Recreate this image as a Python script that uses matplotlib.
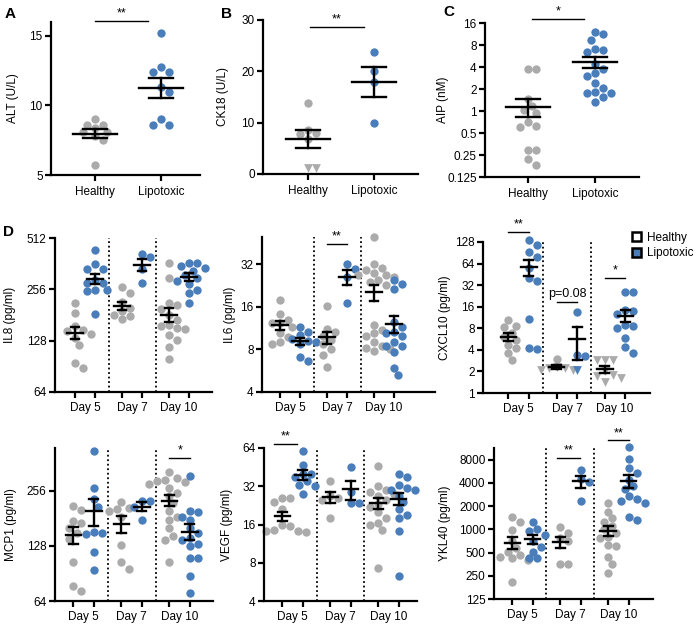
import matplotlib
matplotlib.use('Agg')
import matplotlib.pyplot as plt
from matplotlib.patches import Patch
from matplotlib.ticker import NullLocator
import numpy as np

plt.rcParams['font.family'] = ['Liberation Sans', 'DejaVu Sans']

GRAY = '#ABABAB'
BLUE = '#4A7EBB'

# ---- panel A-C data ----
groups = ['Healthy', 'Lipotoxic']
alt_healthy = [9.0, 8.6, 8.6, 8.4, 8.1, 8.1, 7.8, 7.5, 5.7]
alt_lipo = [15.2, 12.8, 12.4, 12.4, 11.3, 11.0, 9.0, 8.6, 8.6]

ck18_healthy = [13.9, 8.6, 8.0, 7.8, 6.9]
ck18_healthy_lod = [1.2, 1.2]          # below detection, drawn as triangles
ck18_lipo = [23.8, 20.1, 17.9, 9.9]

aip_healthy = [3.7, 3.7, 1.45, 1.17, 1.03, 0.95, 0.71, 0.63, 0.61, 0.29, 0.29, 0.22, 0.18]
aip_lipo = [11.9, 11.3, 9.5, 7.0, 6.9, 6.5, 4.4, 3.7, 3.3, 3.0, 2.45, 2.05, 1.8, 1.75, 1.75, 1.57, 1.32]

# ---- panel D data: [day 5, day 7, day 10] ----
days = ['Day 5', 'Day 7', 'Day 10']

il8_healthy = [[212, 186, 155, 148, 145, 140, 132, 120, 95, 89],
               [263, 244, 216, 200, 190, 181, 178, 171],
               [365, 298, 212, 208, 195, 181, 170, 159, 155, 152, 149, 139, 130, 118, 100]]
il8_lipo = [[433, 360, 335, 335, 292, 280, 280, 254, 254, 250, 184],
            [415, 396, 336, 280],
            [365, 365, 350, 340, 330, 310, 300, 288, 274, 254, 244, 212]]

il6_healthy = [[18.0, 14.3, 13.0, 12.3, 12.3, 11.5, 10.4, 9.8, 9.0, 8.8],
               [16.2, 11.2, 10.6, 10.0, 9.4, 8.7, 8.1, 7.3, 6.0],
               [49.8, 32, 30, 29, 28, 27, 27, 26, 25, 24, 23, 12, 11, 10.5, 10, 9, 8.5, 8.2, 8, 7.8]]
il6_lipo = [[11.5, 10.6, 10.1, 9.5, 9.2, 9.0, 8.8, 7.1, 6.6],
            [32, 29.5, 26, 17],
            [25, 23.4, 21.5, 12.6, 11.5, 10.6, 10.4, 10, 9.1, 8.5, 8.4, 7.7, 5.9, 5.3]]

cxcl10_healthy = [[10.5, 8.6, 8.3, 6.8, 6.1, 5.5, 4.7, 4.2, 3.6, 2.9], [3.0], []]
cxcl10_healthy_lod = [[], [2.3, 2.2, 2.2, 2.1, 2.1], [2.9, 2.9, 2.9, 2.0, 1.8, 1.7, 1.6, 1.43]]
cxcl10_lipo = [[136, 115, 92, 80, 55, 40, 36, 10.7, 4.2, 4.1],
               [13.7, 3.4, 3.3],
               [26, 26, 14.5, 14, 12.5, 9, 8.5, 8, 5.8, 4.4, 3.6]]
cxcl10_lipo_lod = [[], [2.1], []]

mcp1_healthy = [[213, 202, 175, 170, 160, 150, 140, 105, 77, 73],
                [222, 206, 204, 198, 185, 129, 104, 96],
                [324, 300, 295, 290, 285, 280, 265, 250, 240, 220, 200, 185, 178, 160, 146, 138, 104]]
mcp1_lipo = [[424, 265, 230, 210, 152, 150, 148, 118, 94],
             [227, 227, 210, 178],
             [309, 200, 196, 185, 178, 160, 150, 142, 138, 132, 128, 110, 110, 88, 71]]

vegf_healthy = [[26, 26, 24, 21, 16, 15.5, 14.5, 14.3, 14.1, 14.0],
                [35, 27, 26, 25, 18],
                [46.6, 32, 30, 29, 28, 27, 25, 23, 22, 20, 18, 16.5, 16, 14.5, 7.3]]
vegf_lipo = [[61, 47, 40, 40, 38, 35, 33, 32, 28],
             [45, 29, 23.5, 23.5],
             [40, 38, 33, 31, 30, 30, 27, 24, 21, 19, 18, 14.2, 6.3]]

ykl40_healthy = [[1460, 1260, 980, 700, 570, 510, 465, 440, 420, 400, 205],
                 [1060, 890, 760, 700, 355, 355],
                 [2180, 1700, 1400, 1260, 1100, 1000, 900, 800, 760, 630, 600, 440, 360, 270]]
ykl40_lipo = [[1230, 1000, 960, 840, 700, 595, 510, 420, 420],
              [5900, 4450, 4150, 2330],
              [11600, 8100, 6200, 5300, 4400, 3600, 3300, 2700, 2500, 2300, 2200, 1450, 1330]]

W, H = 698, 629
fig = plt.figure(figsize=(W / 100, H / 100), dpi=100)


def add_ax(l, t, r, b):
    ax = fig.add_axes([l / W, 1 - b / H, (r - l) / W, (b - t) / H])
    for s in ['top', 'right']:
        ax.spines[s].set_visible(False)
    for s in ['left', 'bottom']:
        ax.spines[s].set_linewidth(1.6)
    ax.tick_params(direction='out', length=4, width=1.6, labelsize=8.5, pad=2)
    ax.patch.set_alpha(0)
    return ax


def swarm(ax, x0, vals, diam=8.0):
    # simple beeswarm in pixel space
    pts = ax.transData.transform(np.column_stack([np.full(len(vals), x0), vals]))
    ys = pts[:, 1]
    xc = pts[0, 0]
    cands = [0.0]
    for k in range(1, 30):
        cands += [k * diam * 0.5, -k * diam * 0.5]
    placed = []
    offs = np.zeros(len(vals))
    for i in np.argsort(-ys):
        for c in cands:
            if all((c - px) ** 2 + (ys[i] - py) ** 2 >= (diam * 0.95) ** 2 for px, py in placed):
                break
        placed.append((c, ys[i]))
        offs[i] = c
    inv = ax.transData.inverted()
    return inv.transform(np.column_stack([xc + offs, ys]))[:, 0]


def group(ax, x, vals, color, lod=(), hm=0.33, hc=0.18):
    allv = list(vals) + list(lod)
    if not allv:
        return
    xs = swarm(ax, x, allv)
    n = len(vals)
    if n:
        ax.scatter(xs[:n], vals, s=36, color=color, lw=0, zorder=2, clip_on=False)
    if lod:
        ax.scatter(xs[n:], lod, s=40, marker='v', color=color, lw=0, zorder=2, clip_on=False)
    a = np.array(allv, dtype=float)
    m = a.mean()
    se = a.std(ddof=1) / np.sqrt(len(a)) if len(a) > 1 else 0
    kw = dict(color='black', lw=1.7, zorder=3, clip_on=False)
    ax.plot([x - hm, x + hm], [m, m], **kw)
    ax.plot([x, x], [m - se, m + se], **kw)
    ax.plot([x - hc, x + hc], [m + se, m + se], **kw)
    ax.plot([x - hc, x + hc], [m - se, m - se], **kw)


def sig(ax, x1, x2, y, text):
    ax.plot([x1, x2], [y, y], color='black', lw=1, clip_on=False)
    ax.annotate(text, ((x1 + x2) / 2, y), xytext=(0, 1), textcoords='offset points',
                ha='center', va='bottom', fontsize=9, annotation_clip=False)


def ylabel(ax, text, xpx, l, r):
    ax.set_ylabel(text, fontsize=8.5)
    # label anchor is its right side on screen, so shift by half its height
    ax.yaxis.set_label_coords((xpx + 6 - l) / (r - l), 0.5)


def log_axis(ax, lo, hi, ticks, labels):
    ax.set_yscale('log', base=2)
    ax.set_ylim(lo, hi)
    ax.set_yticks(ticks)
    ax.set_yticklabels(labels)
    ax.yaxis.set_minor_locator(NullLocator())


# ---------- top row ----------
def top_panel(rect, xlim, label, ypx):
    ax = add_ax(*rect)
    ax.set_xlim(*xlim)
    ax.set_xticks([0, 1])
    ax.set_xticklabels(groups)
    ax.tick_params(axis='x', pad=4)
    ylabel(ax, label, ypx, rect[0], rect[2])
    return ax


rA = (51, 22, 200, 175)
axA = top_panel(rA, (-0.67, 1.59), 'ALT (U/L)', 13)
axA.set_ylim(5, 16)
axA.set_yticks([5, 10, 15])
group(axA, 0, alt_healthy, GRAY)
group(axA, 1, alt_lipo, BLUE)
sig(axA, 0, 0.8, 16.1, '**')

rB = (263, 20, 418, 174)
axB = top_panel(rB, (-0.68, 1.67), 'CK18 (U/L)', 223)
axB.set_ylim(0, 30)
axB.set_yticks([0, 10, 20, 30])
group(axB, 0, ck18_healthy, GRAY, lod=ck18_healthy_lod)
group(axB, 1, ck18_lipo, BLUE)
sig(axB, 0.03, 0.85, 28.7, '**')

rC = (485, 23, 639, 177)
axC = top_panel(rC, (-0.64, 1.66), 'AIP (nM)', 443)
log_axis(axC, 0.125, 16, [0.125, 0.25, 0.5, 1, 2, 4, 8, 16],
         ['0.125', '0.25', '0.5', '1', '2', '4', '8', '16'])
group(axC, 0, aip_healthy, GRAY)
group(axC, 1, aip_lipo, BLUE)
sig(axC, 0.06, 0.84, 18.2, '*')

# ---------- panel D ----------
pos_h = [0, 2.35, 4.7]
pos_l = [1, 3.35, 5.7]


def day_panel(rect, xlim, label, ypx, lo, hi, ticks, labels, healthy, lipo,
              healthy_lod=None, lipo_lod=None):
    ax = add_ax(*rect)
    ax.set_xlim(*xlim)
    log_axis(ax, lo, hi, ticks, labels)
    ax.set_xticks(pos_h + pos_l)
    ax.set_xticklabels([])
    ax.set_xticks([(h + l) / 2 for h, l in zip(pos_h, pos_l)], minor=True)
    ax.set_xticklabels(days, minor=True)
    ax.tick_params(axis='x', which='minor', length=0, pad=7, labelsize=8.5)
    for sep in [(pos_l[0] + pos_h[1]) / 2, (pos_l[1] + pos_h[2]) / 2]:
        ax.axvline(sep, color='black', ls=(0, (1, 1.5)), lw=1.3)
    ylabel(ax, label, ypx, rect[0], rect[2])
    for i in range(3):
        group(ax, pos_h[i], healthy[i], GRAY,
              lod=healthy_lod[i] if healthy_lod else (), hm=0.38, hc=0.22)
        group(ax, pos_l[i], lipo[i], BLUE,
              lod=lipo_lod[i] if lipo_lod else (), hm=0.38, hc=0.22)
    return ax


rIL8 = (55, 238, 212, 392)
ax1 = day_panel(rIL8, (-1.0, 6.85), 'IL8 (pg/ml)', 10, 64, 512,
                [64, 128, 256, 512], ['64', '128', '256', '512'], il8_healthy, il8_lipo)

rIL6 = (262, 237, 435, 392)
ax2 = day_panel(rIL6, (-0.9, 7.75), 'IL6 (pg/ml)', 230, 4, 50,
                [4, 8, 16, 32], ['4', '8', '16', '32'], il6_healthy, il6_lipo)
sig(ax2, 2.35, 3.35, 44.7, '**')

rCX = (483, 242, 650, 393)
ax3 = day_panel(rCX, (-1.24, 6.9), 'CXCL10 (pg/ml)', 445, 1, 128,
                [1, 2, 4, 8, 16, 32, 64, 128], ['1', '2', '4', '8', '16', '32', '64', '128'],
                cxcl10_healthy, cxcl10_lipo, cxcl10_healthy_lod, cxcl10_lipo_lod)
sig(ax3, 0, 1, 175, '**')
sig(ax3, 2.35, 3.35, 18.8, 'p=0.08')
sig(ax3, 4.7, 5.7, 40.8, '*')

rMC = (55, 448, 213, 601)
ax4 = day_panel(rMC, (-0.9, 6.83), 'MCP1 (pg/ml)', 11, 64, 440,
                [64, 128, 256], ['64', '128', '256'], mcp1_healthy, mcp1_lipo)
sig(ax4, 4.7, 5.7, 388, '*')

rVE = (264, 448, 417, 601)
ax5 = day_panel(rVE, (-0.9, 6.6), 'VEGF (pg/ml)', 227, 4, 64,
                [4, 8, 16, 32, 64], ['4', '8', '16', '32', '64'], vegf_healthy, vegf_lipo)
sig(ax5, -0.4, 0.7, 68.7, '**')

rYK = (494, 448, 653, 599)
ax6 = day_panel(rYK, (-0.9, 6.9), 'YKL40 (pg/ml)', 445, 125, 11300,
                [125, 250, 500, 1000, 2000, 4000, 8000],
                ['125', '250', '500', '1000', '2000', '4000', '8000'], ykl40_healthy, ykl40_lipo)
sig(ax6, 2.2, 3.3, 8350, '**')
sig(ax6, 4.7, 5.7, 14200, '**')

# legend
handles = [Patch(facecolor='white', edgecolor='black', lw=1.8, label='Healthy'),
           Patch(facecolor=BLUE, edgecolor='black', lw=1.8, label='Lipotoxic')]
fig.legend(handles=handles, loc='upper left', bbox_to_anchor=(626 / W, 1 - 226 / H),
           frameon=False, fontsize=8.5, handlelength=0.8, handleheight=0.8,
           handletextpad=0.45, labelspacing=0.3, borderpad=0)

# panel letters
for letter, (x, y) in {'A': (5, 18), 'B': (221, 18), 'C': (443, 16), 'D': (3, 236)}.items():
    fig.text(x / W, 1 - y / H, letter, fontsize=11, fontweight='bold', ha='left', va='baseline')

fig.savefig('out.png', dpi=100)
